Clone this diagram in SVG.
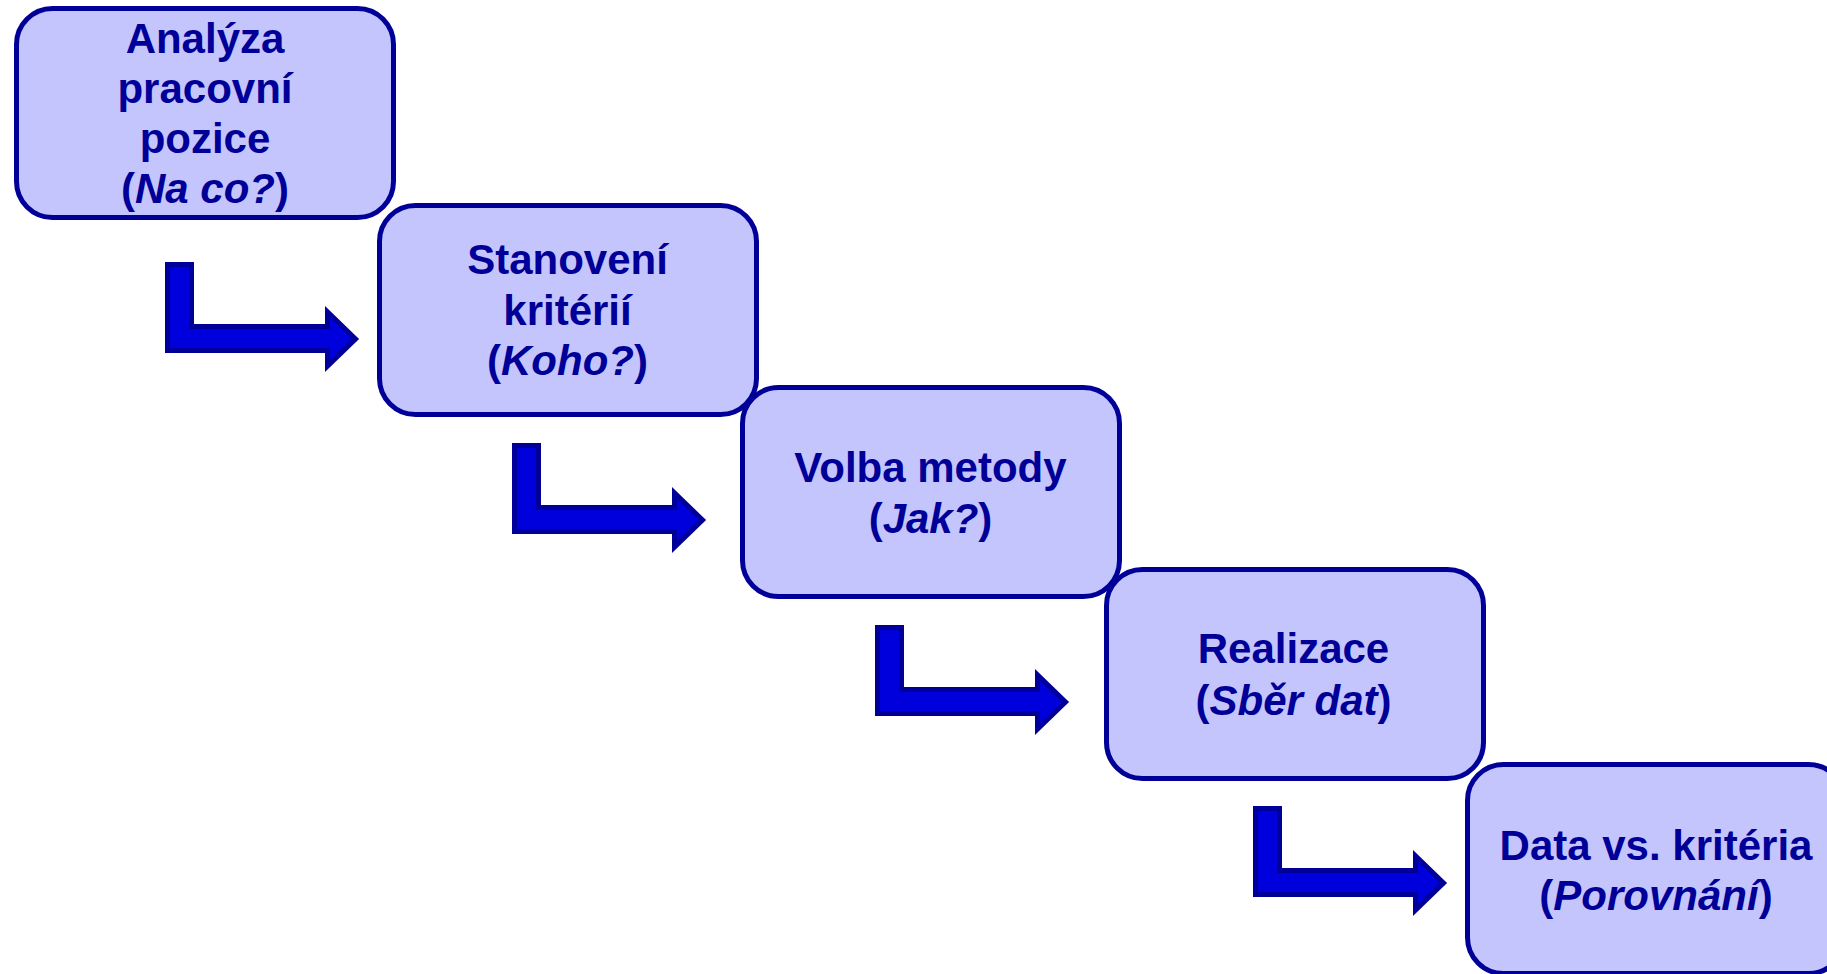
<svg xmlns="http://www.w3.org/2000/svg" xmlns:xlink="http://www.w3.org/1999/xlink" width="1827" height="974" viewBox="0 0 1827 974">
<style>
.box{fill:#C5C5FD;stroke:#000099;stroke-width:5}
.lbl{font-family:"Liberation Sans",Arial,sans-serif;font-weight:bold;font-size:42px;fill:#000099;text-anchor:middle}
.it{font-style:italic}
.bend{fill:#0000DD;stroke:#000099;stroke-width:5;stroke-linejoin:miter;stroke-miterlimit:10}
</style>
<defs>
<path id="bend" d="M2.5,2.5 H26.5 V64.5 H162.5 V50 L190.5,77 L162.5,104 V88.5 H2.5 Z"/>
</defs>
<rect width="1827" height="974" fill="#FFFFFF"/>
<g id="connectors">
<use xlink:href="#bend" href="#bend" class="bend" transform="translate(165,262)"/>
<use xlink:href="#bend" href="#bend" class="bend" transform="translate(512,443)"/>
<use xlink:href="#bend" href="#bend" class="bend" transform="translate(875,625)"/>
<use xlink:href="#bend" href="#bend" class="bend" transform="translate(1253,806)"/>
</g>
<g id="node1">
<rect class="box" x="16.5" y="8.5" width="377" height="209" rx="36" ry="36"/>
<text class="lbl" x="205" y="53">Analýza</text>
<text class="lbl" x="205" y="103">pracovní</text>
<text class="lbl" x="205" y="153">pozice</text>
<text class="lbl" x="205" y="203">(<tspan class="it">Na co?</tspan>)</text>
</g>
<g id="node2">
<rect class="box" x="379.5" y="205.5" width="377" height="209" rx="36" ry="36"/>
<text class="lbl" x="567.5" y="274">Stanovení</text>
<text class="lbl" x="567.5" y="325">kritérií</text>
<text class="lbl" x="567.5" y="375">(<tspan class="it">Koho?</tspan>)</text>
</g>
<g id="node3">
<rect class="box" x="742.5" y="387.5" width="377" height="209" rx="36" ry="36"/>
<text class="lbl" x="930.5" y="482">Volba metody</text>
<text class="lbl" x="930.5" y="533">(<tspan class="it">Jak?</tspan>)</text>
</g>
<g id="node4">
<rect class="box" x="1106.5" y="569.5" width="377" height="209" rx="36" ry="36"/>
<text class="lbl" x="1293.5" y="663">Realizace</text>
<text class="lbl" x="1293.5" y="715">(<tspan class="it">Sběr dat</tspan>)</text>
</g>
<g id="node5">
<rect class="box" x="1467.5" y="764.5" width="377" height="209" rx="36" ry="36"/>
<text class="lbl" x="1656" y="860">Data vs. kritéria</text>
<text class="lbl" x="1656" y="910">(<tspan class="it">Porovnání</tspan>)</text>
</g>
</svg>
